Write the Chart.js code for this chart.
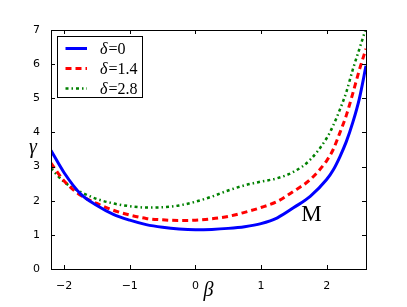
<!DOCTYPE html>
<html>
<head>
<meta charset="utf-8">
<script src="https://cdn.jsdelivr.net/npm/chart.js@4/dist/chart.umd.min.js"></script>
<style>
    body { margin: 0; background: #fff; }
    canvas { display: block; }
</style>
</head>
<body>
<canvas id="chart" width="407" height="307"></canvas>
<script>
// values
const betaValues = [-2.2, -2.0, -1.75, -1.5, -1.25, -1.0, -0.75, -0.5, -0.25, 0, 0.25, 0.5, 0.75, 1.0, 1.25, 1.5, 1.75, 2.0, 2.1, 2.2, 2.3, 2.4, 2.5, 2.6];
const gammaDelta0 = [3.47, 2.82, 2.2, 1.86, 1.6, 1.43, 1.3, 1.22, 1.17, 1.15, 1.16, 1.19, 1.24, 1.33, 1.5, 1.8, 2.13, 2.62, 2.9, 3.28, 3.73, 4.3, 5.0, 5.95];
const gammaDelta14 = [3.1, 2.58, 2.16, 1.92, 1.72, 1.58, 1.48, 1.44, 1.42, 1.43, 1.47, 1.54, 1.66, 1.8, 1.98, 2.28, 2.62, 3.17, 3.5, 3.98, 4.5, 5.15, 5.84, 6.45];
const gammaDelta28 = [2.95, 2.55, 2.26, 2.05, 1.92, 1.84, 1.8, 1.81, 1.86, 1.97, 2.12, 2.3, 2.45, 2.56, 2.66, 2.85, 3.2, 3.83, 4.2, 4.66, 5.18, 5.85, 6.45, 7.05];
const seriesLabels = ['0', '1.4', '2.8'];
const xTickValues = [-2, -1, 0, 1, 2];
const yTickValues = [0, 1, 2, 3, 4, 5, 6, 7];
const annotation = { text: 'M', x: 1.77, y: 1.42 };

const toPoints = ys => betaValues.map((b, i) => ({ x: b, y: ys[i] }));
const minus = v => String(v).replace('-', '\u2212');

const frameAndTicks = {
    id: 'frameAndTicks',
    afterDatasetsDraw(chart) {
        const { ctx, chartArea: a, scales: { x, y } } = chart;
        ctx.save();
        ctx.strokeStyle = '#000';
        ctx.lineWidth = 1;
        ctx.beginPath();
        xTickValues.forEach(v => {
            const px = Math.round(x.getPixelForValue(v)) + 0.5;
            ctx.moveTo(px, a.bottom); ctx.lineTo(px, a.bottom - 4);
            ctx.moveTo(px, a.top); ctx.lineTo(px, a.top + 4);
        });
        yTickValues.forEach(v => {
            const py = Math.round(y.getPixelForValue(v)) + 0.5;
            ctx.moveTo(a.left, py); ctx.lineTo(a.left + 4, py);
            ctx.moveTo(a.right, py); ctx.lineTo(a.right - 4, py);
        });
        ctx.stroke();
        ctx.strokeRect(Math.round(a.left) + 0.5, Math.round(a.top) + 0.5,
            Math.round(a.right - a.left), Math.round(a.bottom - a.top));

        // annotation
        ctx.fillStyle = '#000';
        ctx.font = '23px "Liberation Serif"';
        ctx.textAlign = 'center';
        ctx.textBaseline = 'alphabetic';
        ctx.fillText(annotation.text, x.getPixelForValue(annotation.x), y.getPixelForValue(annotation.y));

        // axis labels
        ctx.font = 'italic 20px "Liberation Serif"';
        ctx.textBaseline = 'middle';
        ctx.fillText('\u03b2', (a.left + a.right) / 2, 291);
        ctx.fillText('\u03b3', 33, 148);

        // legend box
        const box = { l: 57.5, t: 36.5, w: 85, h: 61 };
        ctx.fillStyle = '#fff';
        ctx.fillRect(box.l, box.t, box.w, box.h);
        ctx.strokeRect(box.l, box.t, box.w, box.h);
        chart.data.datasets.forEach((ds, i) => {
            const ry = 48.5 + i * 20;
            ctx.save();
            ctx.strokeStyle = ds.borderColor;
            ctx.lineWidth = ds.borderWidth;
            ctx.setLineDash(ds.borderDash || []);
            ctx.beginPath();
            ctx.moveTo(65.5, ry);
            ctx.lineTo(87, ry);
            ctx.stroke();
            ctx.restore();
            ctx.fillStyle = '#000';
            ctx.textAlign = 'left';
            ctx.textBaseline = 'alphabetic';
            ctx.font = 'italic 16px "Liberation Serif"';
            ctx.fillText('\u03b4', 100, ry + 5);
            const w = ctx.measureText('\u03b4').width;
            ctx.font = '16px "Liberation Serif"';
            ctx.fillText('=' + seriesLabels[i], 100 + w + 1, ry + 5);
        });
        ctx.restore();
    }
};

new Chart(document.getElementById('chart'), {
    type: 'line',
    data: {
        datasets: [
            {
                label: '\u03b4=' + seriesLabels[0],
                data: toPoints(gammaDelta0),
                borderColor: '#0000ff',
                borderWidth: 3
            },
            {
                label: '\u03b4=' + seriesLabels[1],
                data: toPoints(gammaDelta14),
                borderColor: '#ff0000',
                borderWidth: 3,
                borderDash: [6, 4]
            },
            {
                label: '\u03b4=' + seriesLabels[2],
                data: toPoints(gammaDelta28),
                borderColor: '#008000',
                borderWidth: 2.5,
                borderDash: [3, 3, 1.5, 3]
            }
        ]
    },
    options: {
        responsive: false,
        animation: false,
        layout: { padding: { left: 0, top: 30, right: 41, bottom: 0 } },
        elements: {
            point: { radius: 0 },
            line: { cubicInterpolationMode: 'monotone', fill: false, borderCapStyle: 'butt' }
        },
        plugins: { legend: { display: false }, tooltip: { enabled: false } },
        scales: {
            x: {
                type: 'linear',
                min: -2.2,
                max: 2.6,
                afterBuildTicks: s => { s.ticks = xTickValues.map(v => ({ value: v })); },
                afterFit: s => { s.height = 38; },
                grid: { display: false },
                border: { display: false },
                ticks: {
                    color: '#000',
                    padding: 3,
                    maxRotation: 0,
                    font: { family: 'DejaVu Sans', size: 11 },
                    callback: v => minus(v)
                }
            },
            y: {
                min: 0,
                max: 7,
                afterBuildTicks: s => { s.ticks = yTickValues.map(v => ({ value: v })); },
                afterFit: s => { s.width = 51; },
                grid: { display: false },
                border: { display: false },
                ticks: {
                    color: '#000',
                    padding: 3,
                    font: { family: 'DejaVu Sans', size: 11 },
                    callback: v => minus(v)
                }
            }
        }
    },
    plugins: [frameAndTicks]
});
</script>
</body>
</html>
